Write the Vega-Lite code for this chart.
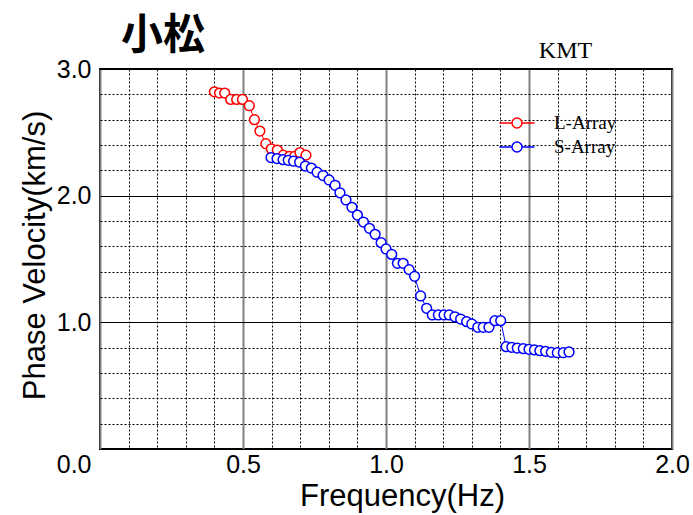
{
  "$schema": "https://vega.github.io/schema/vega-lite/v6.json",
  "width": 572,
  "height": 380,
  "autosize": "none",
  "padding": {"left": 100, "top": 69, "right": 21, "bottom": 66},
  "background": "white",
  "config": {
    "font": "Liberation Sans",
    "view": {"stroke": "#000", "strokeWidth": 2}
  },
  "title": {
    "text": "小松",
    "font": "Noto Sans CJK JP",
    "fontSize": 42,
    "fontWeight": "bold",
    "anchor": "start",
    "frame": "group",
    "dx": 21,
    "offset": -20,
    "color": "#000"
  },
  "data": {
    "values": [
      {"series": "L-Array", "f": 0.400, "v": 2.82},
      {"series": "L-Array", "f": 0.418, "v": 2.81},
      {"series": "L-Array", "f": 0.436, "v": 2.81},
      {"series": "L-Array", "f": 0.457, "v": 2.76},
      {"series": "L-Array", "f": 0.478, "v": 2.76},
      {"series": "L-Array", "f": 0.498, "v": 2.76},
      {"series": "L-Array", "f": 0.522, "v": 2.71},
      {"series": "L-Array", "f": 0.540, "v": 2.60},
      {"series": "L-Array", "f": 0.559, "v": 2.51},
      {"series": "L-Array", "f": 0.580, "v": 2.41},
      {"series": "L-Array", "f": 0.599, "v": 2.37},
      {"series": "L-Array", "f": 0.620, "v": 2.36},
      {"series": "L-Array", "f": 0.641, "v": 2.32},
      {"series": "L-Array", "f": 0.662, "v": 2.31},
      {"series": "L-Array", "f": 0.680, "v": 2.31},
      {"series": "L-Array", "f": 0.699, "v": 2.34},
      {"series": "L-Array", "f": 0.720, "v": 2.32},
      {"series": "S-Array", "f": 0.598, "v": 2.301},
      {"series": "S-Array", "f": 0.619, "v": 2.293},
      {"series": "S-Array", "f": 0.640, "v": 2.284},
      {"series": "S-Array", "f": 0.658, "v": 2.279},
      {"series": "S-Array", "f": 0.677, "v": 2.272},
      {"series": "S-Array", "f": 0.698, "v": 2.264},
      {"series": "S-Array", "f": 0.718, "v": 2.234},
      {"series": "S-Array", "f": 0.739, "v": 2.218},
      {"series": "S-Array", "f": 0.759, "v": 2.185},
      {"series": "S-Array", "f": 0.780, "v": 2.159},
      {"series": "S-Array", "f": 0.801, "v": 2.124},
      {"series": "S-Array", "f": 0.822, "v": 2.082},
      {"series": "S-Array", "f": 0.839, "v": 2.023},
      {"series": "S-Array", "f": 0.860, "v": 1.966},
      {"series": "S-Array", "f": 0.881, "v": 1.908},
      {"series": "S-Array", "f": 0.900, "v": 1.847},
      {"series": "S-Array", "f": 0.921, "v": 1.792},
      {"series": "S-Array", "f": 0.942, "v": 1.742},
      {"series": "S-Array", "f": 0.962, "v": 1.695},
      {"series": "S-Array", "f": 0.983, "v": 1.629},
      {"series": "S-Array", "f": 1.000, "v": 1.579},
      {"series": "S-Array", "f": 1.020, "v": 1.536},
      {"series": "S-Array", "f": 1.040, "v": 1.466},
      {"series": "S-Array", "f": 1.060, "v": 1.466},
      {"series": "S-Array", "f": 1.081, "v": 1.416},
      {"series": "S-Array", "f": 1.100, "v": 1.363},
      {"series": "S-Array", "f": 1.121, "v": 1.208},
      {"series": "S-Array", "f": 1.142, "v": 1.111},
      {"series": "S-Array", "f": 1.162, "v": 1.058},
      {"series": "S-Array", "f": 1.183, "v": 1.058},
      {"series": "S-Array", "f": 1.203, "v": 1.058},
      {"series": "S-Array", "f": 1.221, "v": 1.058},
      {"series": "S-Array", "f": 1.241, "v": 1.044},
      {"series": "S-Array", "f": 1.261, "v": 1.026},
      {"series": "S-Array", "f": 1.282, "v": 1.005},
      {"series": "S-Array", "f": 1.300, "v": 0.987},
      {"series": "S-Array", "f": 1.321, "v": 0.961},
      {"series": "S-Array", "f": 1.340, "v": 0.961},
      {"series": "S-Array", "f": 1.360, "v": 0.961},
      {"series": "S-Array", "f": 1.381, "v": 1.013},
      {"series": "S-Array", "f": 1.401, "v": 1.013},
      {"series": "S-Array", "f": 1.420, "v": 0.808},
      {"series": "S-Array", "f": 1.440, "v": 0.803},
      {"series": "S-Array", "f": 1.459, "v": 0.797},
      {"series": "S-Array", "f": 1.480, "v": 0.792},
      {"series": "S-Array", "f": 1.500, "v": 0.787},
      {"series": "S-Array", "f": 1.519, "v": 0.782},
      {"series": "S-Array", "f": 1.538, "v": 0.776},
      {"series": "S-Array", "f": 1.558, "v": 0.771},
      {"series": "S-Array", "f": 1.578, "v": 0.763},
      {"series": "S-Array", "f": 1.599, "v": 0.760},
      {"series": "S-Array", "f": 1.620, "v": 0.760},
      {"series": "S-Array", "f": 1.640, "v": 0.766}
    ]
  },
  "resolve": {"axis": {"x": "independent"}},
  "layer": [
    {
      "mark": {"type": "line", "strokeWidth": 1, "clip": true},
      "encoding": {
        "x": {
          "field": "f", "type": "quantitative",
          "scale": {"domain": [0, 2], "nice": false},
          "axis": {
            "orient": "top", "title": "KMT", "labels": false, "ticks": false,
            "grid": false, "domain": false,
            "titleFont": "Liberation Serif", "titleFontSize": 24, "titleFontWeight": "normal",
            "titleColor": "#000", "titleX": 465, "titleY": -12,
            "titleBaseline": "alphabetic", "titleAlign": "center"
          }
        },
        "y": {
          "field": "v", "type": "quantitative",
          "scale": {"domain": [0, 3], "nice": false},
          "axis": {
            "values": [0, 0.2, 0.4, 0.6, 0.8, 1.0, 1.2, 1.4, 1.6, 1.8, 2.0, 2.2, 2.4, 2.6, 2.8, 3.0],
            "labelExpr": "(abs(datum.value - round(datum.value)) < 0.001 && datum.value > 0.5) ? format(datum.value, '.1f') : ''",
            "labelFontSize": 25, "labelColor": "#000", "labelPadding": 9,
            "labelFlush": false, "labelOverlap": false, "labelBound": false,
            "ticks": false, "domain": false,
            "grid": true,
            "gridColor": "#000",
            "gridDash": {"condition": {"test": "abs(datum.value - round(datum.value)) < 0.001", "value": []}, "value": [2, 2]},
            "gridWidth": 1,
            "gridOpacity": 1,
            "title": "Phase Velocity(km/s)", "titleFontSize": 31, "titleFontWeight": "normal", "titleColor": "#000",
            "titleX": -65, "titleY": 186, "titleAngle": -90, "titleBaseline": "middle", "titleAlign": "center"
          }
        },
        "stroke": {
          "field": "series", "type": "nominal",
          "scale": {"domain": ["L-Array", "S-Array"], "range": ["#ff0000", "#0000ff"]},
          "legend": {
            "title": null, "orient": "none", "legendX": 406, "legendY": 43, "padding": 0,
            "symbolType": "M-1.75,0H-0.5M0.5,0H1.75M0.5,0A0.5,0.5,0,1,1,-0.5,0A0.5,0.5,0,1,1,0.5,0",
            "symbolSize": 400, "symbolStrokeWidth": 1.5, "symbolFillColor": "white",
            "labelFont": "Liberation Serif", "labelFontSize": 19, "labelColor": "#000",
            "labelOffset": 26, "rowPadding": 3
          }
        },
        "detail": {"field": "series"}
      }
    },
    {
      "mark": {"type": "point", "shape": "circle", "filled": true, "fill": "white", "size": 95, "strokeWidth": 1.5, "opacity": 1},
      "encoding": {
        "x": {
          "field": "f", "type": "quantitative",
          "scale": {"domain": [0, 2], "nice": false},
          "axis": {
            "orient": "bottom",
            "values": [0, 0.1, 0.2, 0.3, 0.4, 0.5, 0.6, 0.7, 0.8, 0.9, 1.0, 1.1, 1.2, 1.3, 1.4, 1.5, 1.6, 1.7, 1.8, 1.9, 2.0],
            "labelExpr": "abs(datum.value*2 - round(datum.value*2)) < 0.001 ? format(datum.value, '.1f') : ''",
            "labelFontSize": 25, "labelColor": "#000", "labelPadding": 3,
            "labelAlign": {"condition": {"test": "datum.value < 0.01", "value": "right"}, "value": "center"},
            "labelOffset": {"condition": {"test": "datum.value < 0.01", "value": -9}, "value": 0},
            "labelFlush": false, "labelOverlap": false, "labelBound": false,
            "ticks": false, "domain": false,
            "grid": true,
            "gridColor": {"condition": {"test": "abs(datum.value*2 - round(datum.value*2)) < 0.001", "value": "#808080"}, "value": "#000"},
            "gridDash": {"condition": {"test": "abs(datum.value*2 - round(datum.value*2)) < 0.001", "value": []}, "value": [2, 2]},
            "gridWidth": {"condition": {"test": "abs(datum.value*2 - round(datum.value*2)) < 0.001", "value": 2}, "value": 1},
            "gridOpacity": 1,
            "title": "Frequency(Hz)", "titleFontSize": 31, "titleFontWeight": "normal", "titleColor": "#000",
            "titlePadding": 4, "titleX": 302
          }
        },
        "y": {
          "field": "v", "type": "quantitative",
          "scale": {"domain": [0, 3], "nice": false},
          "axis": {
            "values": [0, 0.2, 0.4, 0.6, 0.8, 1.0, 1.2, 1.4, 1.6, 1.8, 2.0, 2.2, 2.4, 2.6, 2.8, 3.0],
            "labelExpr": "(abs(datum.value - round(datum.value)) < 0.001 && datum.value > 0.5) ? format(datum.value, '.1f') : ''",
            "labelFontSize": 25, "labelColor": "#000", "labelPadding": 9,
            "labelFlush": false, "labelOverlap": false, "labelBound": false,
            "ticks": false, "domain": false,
            "grid": true,
            "gridColor": "#000",
            "gridDash": {"condition": {"test": "abs(datum.value - round(datum.value)) < 0.001", "value": []}, "value": [2, 2]},
            "gridWidth": 1,
            "gridOpacity": 1,
            "title": "Phase Velocity(km/s)", "titleFontSize": 31, "titleFontWeight": "normal", "titleColor": "#000",
            "titleX": -65, "titleY": 186, "titleAngle": -90, "titleBaseline": "middle", "titleAlign": "center"
          }
        },
        "stroke": {
          "field": "series", "type": "nominal",
          "scale": {"domain": ["L-Array", "S-Array"], "range": ["#ff0000", "#0000ff"]},
          "legend": {
            "title": null, "orient": "none", "legendX": 406, "legendY": 43, "padding": 0,
            "symbolType": "M-1.75,0H-0.5M0.5,0H1.75M0.5,0A0.5,0.5,0,1,1,-0.5,0A0.5,0.5,0,1,1,0.5,0",
            "symbolSize": 400, "symbolStrokeWidth": 1.5, "symbolFillColor": "white",
            "labelFont": "Liberation Serif", "labelFontSize": 19, "labelColor": "#000",
            "labelOffset": 26, "rowPadding": 3
          }
        }
      }
    }
  ]
}
